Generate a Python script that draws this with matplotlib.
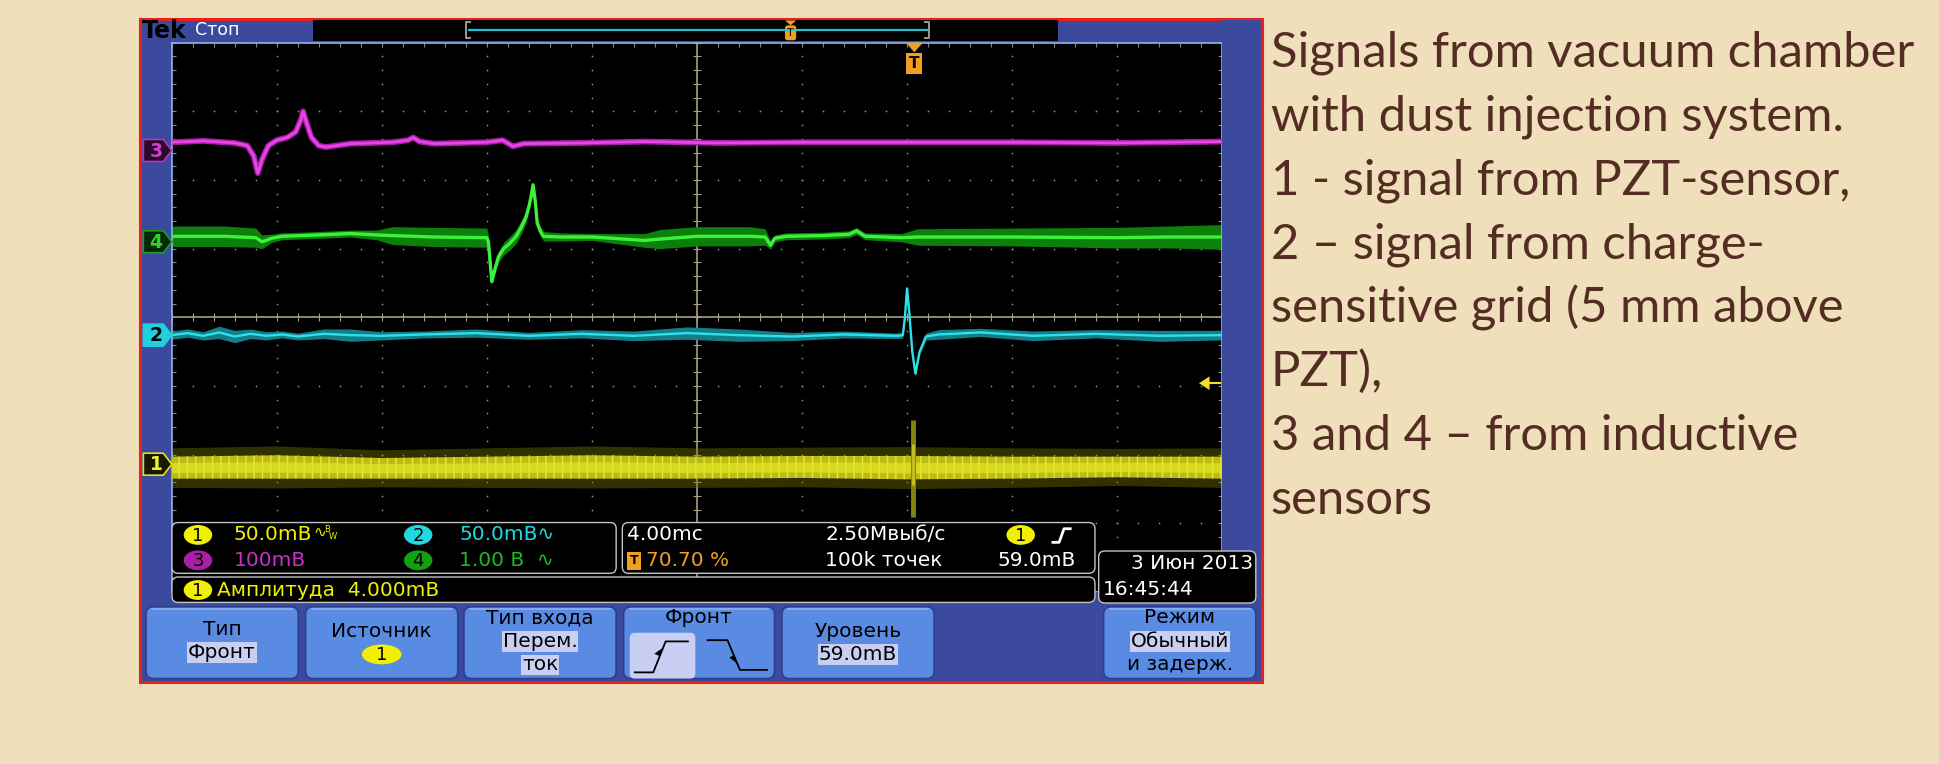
import numpy as np
import matplotlib
matplotlib.use("Agg")
import matplotlib.pyplot as plt
from matplotlib.patches import Rectangle, FancyBboxPatch, Polygon, Ellipse

# ---- screen traces, in divisions: x 0..10 left->right, y -4..4 about the centre line
# ch3 (inductive sensor, magenta)
ch3_x = [0.0, 0.3, 0.6, 0.72, 0.78, 0.82, 0.86, 0.92, 1.0, 1.1, 1.18, 1.23, 1.25, 1.28, 1.33,
         1.40, 1.47, 1.7, 2.1, 2.25, 2.3, 2.36, 2.5, 3.0, 3.15, 3.25, 3.35, 3.9, 4.5, 5.2,
         6.0, 7.0, 8.0, 9.0, 10.0]
ch3_y = [2.55, 2.57, 2.54, 2.50, 2.35, 2.10, 2.30, 2.50, 2.58, 2.62, 2.70, 2.88, 3.00, 2.85, 2.62,
         2.50, 2.48, 2.53, 2.55, 2.58, 2.62, 2.56, 2.53, 2.55, 2.58, 2.49, 2.53, 2.54, 2.56, 2.54,
         2.55, 2.55, 2.55, 2.54, 2.56]

# ch4 (inductive sensor, green) with its noise half-width
ch4_x = [0, 0.5, 0.8, 0.86, 0.95, 1.05, 1.4, 1.7, 1.95, 2.1,
         2.5, 3.0, 3.015, 3.047, 3.08, 3.11, 3.16, 3.22, 3.28, 3.33,
         3.37, 3.40, 3.42, 3.44, 3.46, 3.48, 3.51, 3.54, 3.7, 4.0,
         4.5, 4.65, 5.0, 5.5, 5.65, 5.70, 5.74, 5.85, 6.2, 6.45,
         6.52, 6.6, 6.95, 7.1, 8.0, 9.0, 9.5, 10.0]
ch4_y = [1.18, 1.18, 1.16, 1.10, 1.15, 1.18, 1.20, 1.22, 1.20, 1.19,
         1.17, 1.16, 1.10, 0.52, 0.72, 0.88, 1.00, 1.08, 1.18, 1.32,
         1.45, 1.61, 1.75, 1.93, 1.70, 1.37, 1.25, 1.18, 1.17, 1.17,
         1.12, 1.14, 1.18, 1.18, 1.17, 1.05, 1.15, 1.18, 1.19, 1.21,
         1.26, 1.18, 1.16, 1.17, 1.17, 1.16, 1.17, 1.17]
ch4_n = [0.15, 0.15, 0.14, 0.10, 0.06, 0.05, 0.05, 0.05, 0.07, 0.13,
         0.14, 0.14, 0.08, 0.04, 0.06, 0.08, 0.09, 0.10, 0.10, 0.10,
         0.08, 0.06, 0.05, 0.04, 0.05, 0.06, 0.07, 0.07, 0.06, 0.05,
         0.10, 0.14, 0.14, 0.14, 0.12, 0.06, 0.05, 0.05, 0.05, 0.05,
         0.05, 0.05, 0.06, 0.12, 0.13, 0.15, 0.16, 0.18]

# ch2 (charge-sensitive grid, cyan)
ch2_x = [0, 0.15, 0.3, 0.45, 0.6, 0.75, 0.9, 1.05, 1.2, 1.45, 1.7, 2.0, 2.4, 2.9, 3.4, 3.9,
         4.4, 4.9, 5.4, 5.9, 6.4, 6.9, 6.96, 6.98, 7.00, 7.02, 7.05, 7.08, 7.12, 7.18, 7.3,
         7.7, 8.2, 8.8, 9.4, 10.0]
ch2_y = [-0.26, -0.23, -0.27, -0.22, -0.28, -0.24, -0.27, -0.25, -0.28, -0.24, -0.26, -0.27,
         -0.25, -0.23, -0.27, -0.24, -0.27, -0.23, -0.26, -0.28, -0.25, -0.27, -0.26, 0.00,
         0.42, 0.10, -0.50, -0.82, -0.50, -0.28, -0.25, -0.22, -0.27, -0.24, -0.27, -0.26]
ch2_n = [0.06, 0.06, 0.06, 0.09, 0.09, 0.07, 0.06, 0.05, 0.05, 0.07, 0.09, 0.06, 0.05, 0.06,
         0.05, 0.06, 0.07, 0.09, 0.09, 0.06, 0.05, 0.04, 0.04, 0.04, 0.04, 0.04, 0.04, 0.04,
         0.04, 0.05, 0.07, 0.06, 0.07, 0.06, 0.08, 0.07]

# ch1 (PZT sensor, yellow) - noise band plus the burst at the trigger point
ch1_x = [0, 1.0, 2.0, 3.0, 4.0, 5.0, 6.0, 7.0, 8.0, 9.0, 10.0]
ch1_y = [-2.19, -2.18, -2.20, -2.19, -2.18, -2.19, -2.18, -2.19, -2.19, -2.18, -2.19]
ch1_n = [0.16, 0.17, 0.15, 0.16, 0.17, 0.16, 0.16, 0.17, 0.16, 0.15, 0.16]
ch1_burst_x = 7.06
ch1_burst_y = [-2.91, -1.50]
ch1_burst_core = [-2.45, -1.85]

ch_offset = {"1": -2.14, "2": -0.26, "3": 2.43, "4": 1.10}
trig_pos_pct = 70.70
trig_level_mv = 59.0
ch1_mv_div = 50.0

# readouts
scale_row1 = ["50.0mB", "50.0mB"]
scale_row2 = ["100mB", "1.00 B"]
timebase = "4.00mc"
sample_rate = "2.50Mвыб/с"
rec_len = "100k точек"
meas_text = "Амплитуда  4.000mB"
date_text = ["3 Июн 2013", "16:45:44"]

desc_lines = ["Signals from vacuum chamber",
              "with dust injection system.",
              "1 - signal from PZT-sensor,",
              "2 \u2013 signal from charge-",
              "sensitive grid (5 mm above",
              "PZT),",
              "3 and 4 \u2013 from inductive",
              "sensors"]

# layout, in canvas units (reference scaled to 1568 x 617)
W, H = 1568, 617
GX0, GX1, GY0, GY1 = 138.8, 987.8, 34.5, 478.0
BEZEL = "#3b4a9c"
BTN = "#5a8be3"
HL = "#c9cff2"
SF = ["DejaVu Sans"]
FS = 14.5

fig = plt.figure(figsize=(19.4, 7.64), dpi=100)
fig.patch.set_facecolor("#efdfba")

base = fig.add_axes([0, 0, 1, 1])
base.set_xlim(0, W)
base.set_ylim(H, 0)
base.axis("off")

base.add_patch(Rectangle((113, 15), 907, 536, fc=BEZEL, ec="#e8211e", lw=2.2))
base.add_patch(Rectangle((253, 16.5), 602, 16.5, fc="black", ec="none"))

# top bar
base.text(115, 25, "Tek", color="black", fontsize=17, fontweight="bold",
          family=["Liberation Sans Narrow", "DejaVu Sans"], va="center", ha="left")
base.text(158, 24, "Стоп", color="white", fontsize=12.5, family=["Liberation Sans Narrow", "DejaVu Sans"],
          va="center", ha="left")
base.plot([379, 749], [24.5, 24.5], color="#22c4d0", lw=1.6)
for bx, s in [(377, 1), (750.5, -1)]:
    base.plot([bx + 3 * s, bx, bx, bx + 3 * s], [18, 18, 31, 31], color="#9a9a9a", lw=1.4)
base.add_patch(Polygon([(634.5, 16.5), (643.5, 16.5), (639, 20.5)], fc="#f0a020", ec="none"))
base.add_patch(FancyBboxPatch((634.5, 20.5), 9, 12, boxstyle="round,pad=0,rounding_size=2",
                              fc="#f0a020", ec="none"))
base.text(639, 27, "T", color="black", fontsize=8, ha="center", va="center", family=SF)

# ---- scope graticule and traces
sc = fig.add_axes([GX0 / W, 1 - GY1 / H, (GX1 - GX0) / W, (GY1 - GY0) / H])
sc.set_facecolor("black")
sc.set_xlim(0, 10)
sc.set_ylim(-4, 4)
sc.set_xticks([])
sc.set_yticks([])
for s in sc.spines.values():
    s.set_color("#8fb4e8")
    s.set_linewidth(1.2)

minor_y = np.linspace(-4, 4, 41)
minor_x = np.linspace(0, 10, 51)
for gx in range(1, 10):
    if gx != 5:
        sc.scatter(np.full(minor_y.size, gx), minor_y, s=1.6, c="#8c8c80", lw=0, zorder=1)
for gy in range(-3, 4):
    if gy != 0:
        sc.scatter(minor_x, np.full(minor_x.size, gy), s=1.6, c="#8c8c80", lw=0, zorder=1)
sc.axvline(5, color="#a89f84", lw=1.2, zorder=1)
sc.axhline(0, color="#a89f84", lw=1.2, zorder=1)
sc.vlines(minor_x, -0.06, 0.06, color="#a89f84", lw=0.8, zorder=1)
sc.hlines(minor_y, 4.96, 5.04, color="#a89f84", lw=0.8, zorder=1)
sc.vlines(minor_x, 3.94, 4.0, color="#8c8c80", lw=0.8, zorder=1)
sc.hlines(minor_y, 0, 0.04, color="#8c8c80", lw=0.8, zorder=1)
sc.hlines(minor_y, 9.96, 10, color="#8c8c80", lw=0.8, zorder=1)

# ch1 yellow
c1x, c1y, c1n = np.array(ch1_x), np.array(ch1_y), np.array(ch1_n)
sc.fill_between(c1x, c1y - 1.8 * c1n, c1y + 1.8 * c1n, color="#7c7c00", alpha=0.4, lw=0, zorder=2)
sc.fill_between(c1x, c1y - c1n, c1y + c1n, facecolor="#bdbc14", edgecolor="#e8e830",
                hatch="||", lw=0, zorder=3)
sc.fill_between(c1x, c1y - 0.45 * c1n, c1y + 0.45 * c1n, color="#e6e628", alpha=0.7, lw=0, zorder=3)
sc.vlines(ch1_burst_x, ch1_burst_y[0], ch1_burst_y[1], color="#86840e", lw=3.5, zorder=5)
sc.vlines(ch1_burst_x, ch1_burst_core[0], ch1_burst_core[1], color="#c6c420", lw=2, zorder=5)

# ch2 cyan
c2x, c2y, c2n = np.array(ch2_x), np.array(ch2_y), np.array(ch2_n)
sc.fill_between(c2x, c2y - c2n, c2y + c2n, color="#127f88", lw=0, zorder=2)
sc.plot(c2x, c2y, color="#2ee0ea", lw=1.7, zorder=4, solid_joinstyle="round")

# ch4 green
c4x, c4y, c4n = np.array(ch4_x), np.array(ch4_y), np.array(ch4_n)
sc.fill_between(c4x, c4y - c4n, c4y + c4n, color="#0b800b", lw=0, zorder=2)
sc.plot(c4x, c4y, color="#3cf03c", lw=2.4, zorder=4, solid_joinstyle="round")

# ch3 magenta
sc.plot(ch3_x, ch3_y, color="#a81ea8", lw=4.2, zorder=3, solid_joinstyle="round")
sc.plot(ch3_x, ch3_y, color="#e646e6", lw=2.0, zorder=4, solid_joinstyle="round")

# trigger position and level markers
tpos = trig_pos_pct / 10.0
sc.add_patch(Polygon([(tpos - 0.08, 4.0), (tpos + 0.08, 4.0), (tpos, 3.86)],
                     fc="#f0a020", ec="none", clip_on=False, zorder=6))
sc.add_patch(Rectangle((tpos - 0.075, 3.55), 0.15, 0.3, fc="#f0a020", ec="none", zorder=6))
sc.text(tpos, 3.70, "T", color="black", fontsize=11, fontweight="bold", ha="center", va="center",
        family=SF, zorder=7)
tlev = ch_offset["1"] + trig_level_mv / ch1_mv_div
sc.add_patch(Polygon([(9.78, tlev), (9.88, tlev + 0.1), (9.88, tlev - 0.1)],
                     fc="#f0e020", ec="none", zorder=6))
sc.plot([9.86, 9.98], [tlev, tlev], color="#f0e020", lw=1.5, zorder=6)

# channel ground markers on the left
markers = [("3", "#2a0a2a", "#c030c0", "#d040d0"),
           ("4", "#062806", "#18a018", "#30d030"),
           ("2", "#20d0dc", "#20d0dc", "black"),
           ("1", "#181800", "#e0e020", "#f0f030")]
for name, fc, ec, tc in markers:
    yy = ch_offset[name]
    sc.add_patch(Polygon([(-0.27, yy - 0.16), (-0.08, yy - 0.16), (0, yy), (-0.08, yy + 0.16),
                          (-0.27, yy + 0.16)], fc=fc, ec=ec, lw=1.2, clip_on=False, zorder=6))
    sc.text(-0.15, yy - 0.01, name, color=tc, fontsize=13.5, fontweight="bold", ha="center",
            va="center", family=SF, clip_on=False, zorder=7)

# ---- overlay: readout panels, date and soft menu
ov = fig.add_axes([0, 0, 1, 1])
ov.set_xlim(0, W)
ov.set_ylim(H, 0)
ov.axis("off")
ov.patch.set_alpha(0)

ov.add_patch(Rectangle((988, 16.5), 30, 472, fc=BEZEL, ec="none"))
ov.add_patch(Rectangle((115, GY1), 873, 12, fc=BEZEL, ec="none"))


def rbox(x0, y0, x1, y1, fc, ec, r=5, lw=1.0):
    ov.add_patch(FancyBboxPatch((x0, y0), x1 - x0, y1 - y0, boxstyle=f"round,pad=0,rounding_size={r}",
                                fc=fc, ec=ec, lw=lw))


def badge(cx, cy, label, fc, w=23, h=16):
    ov.add_patch(Ellipse((cx, cy), w, h, fc=fc, ec="none"))
    ov.text(cx, cy + 0.5, label, color="black", fontsize=13, ha="center", va="center", family=SF)


def txt(x, y, s, color, ha="left", size=FS, hl=False):
    kw = {}
    if hl:
        kw["bbox"] = dict(fc=HL, ec="none", pad=0.6)
    ov.text(x, y, s, color=color, fontsize=size, ha=ha, va="center", family=SF, **kw)


rbox(139, 422, 498, 463, "black", "#c4c4c4")
rbox(503, 422, 885, 463, "black", "#c4c4c4")
rbox(139, 466, 885, 486.5, "black", "#c4c4c4")
rbox(888, 445, 1015, 487, "black", "#c4c4c4")

badge(160, 432, "1", "#f0f000")
txt(189, 432, scale_row1[0], "#f0f000")
txt(253, 430, "\u223f", "#f0f000", size=11)
txt(262, 428, "B", "#f0f000", size=6)
txt(266, 433, "W", "#f0f000", size=6)
badge(338, 432, "2", "#20d8e0")
txt(371, 432, scale_row1[1] + "\u223f", "#20d8e0")
badge(160, 452.5, "3", "#a820a8")
txt(189, 452.5, scale_row2[0], "#c830c8")
badge(338, 452.5, "4", "#10a010")
txt(371, 452.5, scale_row2[1] + "  \u223f", "#20b820")

txt(507, 432, timebase, "white")
txt(667, 432, sample_rate, "white")
badge(825, 432, "1", "#f0f000")
ov.plot([851, 856, 860, 865], [438, 438, 427, 427], color="white", lw=2)
ov.add_patch(Rectangle((507, 446), 11, 14, fc="#f0a020", ec="none"))
ov.text(512.5, 453, "T", color="black", fontsize=9, fontweight="bold", ha="center", va="center", family=SF)
txt(522, 452.5, "%.2f %%" % trig_pos_pct, "#f0a020")
txt(667, 452.5, rec_len, "white")
txt(806, 452.5, "%.1fmB" % trig_level_mv, "white")

badge(160, 476.5, "1", "#f0f000")
txt(175, 476.5, meas_text, "#f0f000")

txt(1013, 455, date_text[0], "white", ha="right")
txt(891, 476, date_text[1], "white")

# soft menu buttons
buttons = [(118, 241), (247, 370), (375, 498), (504, 626), (632, 755), (892, 1015)]
for x0, x1 in buttons:
    rbox(x0, 490, x1, 548, BTN, "#2c3f8c", r=6, lw=1.2)
    ov.plot([x0 + 5, x1 - 5], [491.5, 491.5], color="#8fb0f0", lw=1.2)

txt(179.5, 508, "Тип", "black", ha="center")
txt(179.5, 527, "Фронт", "black", ha="center", hl=True)
txt(308.5, 510, "Источник", "black", ha="center")
badge(308.5, 528.5, "1", "#f0f000", w=32, h=16)
txt(436.5, 499, "Тип входа", "black", ha="center")
txt(436.5, 518, "Перем.", "black", ha="center", hl=True)
txt(436.5, 537, "ток", "black", ha="center", hl=True)
txt(565, 499, "Фронт", "black", ha="center")
rbox(509, 511, 562, 548, HL, "none", r=4)
ov.plot([513, 528, 538, 556], [543, 543, 518, 518], color="black", lw=1.3)
ov.add_patch(Polygon([(536, 523), (533.5, 530), (528.8, 528)], fc="black", ec="none"))
ov.plot([572, 588, 598, 620], [517, 517, 541, 541], color="black", lw=1.3)
ov.add_patch(Polygon([(596, 536), (593.5, 529), (589.5, 531)], fc="black", ec="none"))
txt(693.5, 510, "Уровень", "black", ha="center")
txt(693.5, 528.5, "%.1fmB" % trig_level_mv, "black", ha="center", hl=True)
txt(953.5, 499, "Режим", "black", ha="center")
txt(953.5, 518, "Обычный", "black", ha="center", hl=True)
txt(953.5, 537, "и задерж.", "black", ha="center")

# description on the slide
for i, line in enumerate(desc_lines):
    ov.text(1027, 53.4 + i * 51.7, line, color="#552c24", fontsize=35.3, family=["Lato", "DejaVu Sans"],
            ha="left", va="baseline")

fig.savefig("out.png", dpi=100, facecolor=fig.get_facecolor())
